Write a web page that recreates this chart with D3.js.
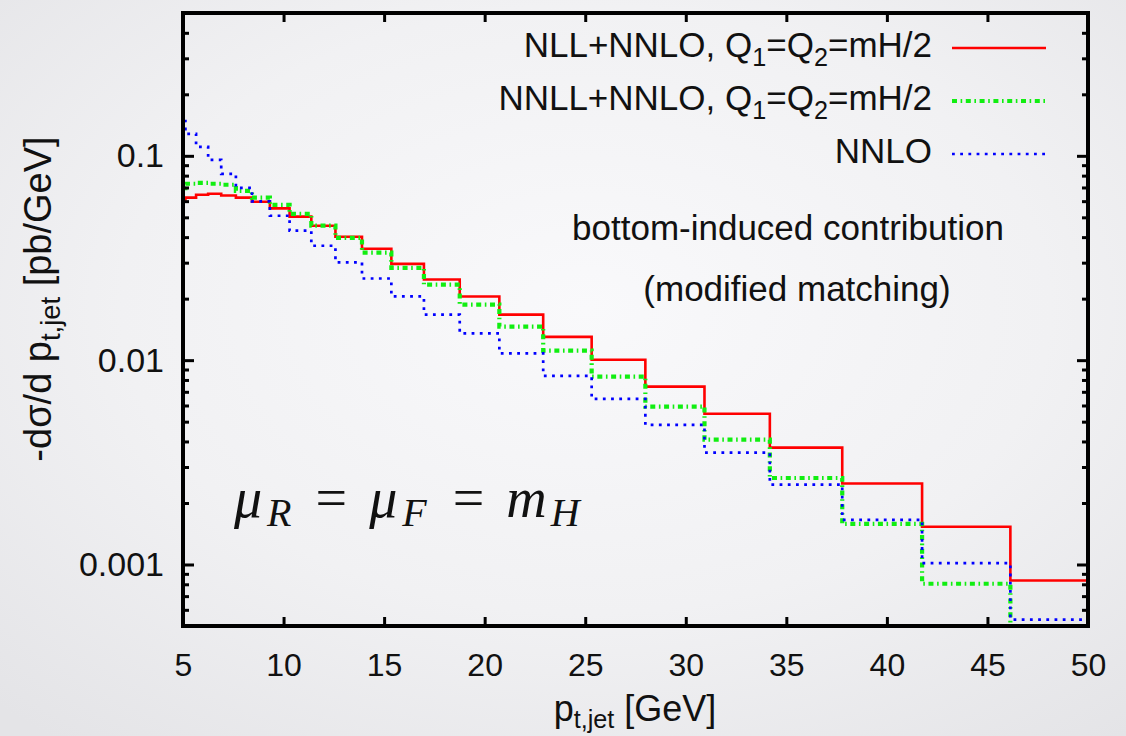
<!DOCTYPE html>
<html>
<head>
<meta charset="utf-8">
<script src="https://cdn.jsdelivr.net/npm/d3@7"></script>
<style>
  html, body { margin: 0; padding: 0; }
  body {
    width: 1126px; height: 736px; overflow: hidden;
    background: radial-gradient(ellipse 75% 75% at 52% 42%, #f9f9fb 0%, #f1f1f3 55%, #e4e4e7 100%);
  }
  svg { display: block; font-family: "Liberation Sans", Arial, Helvetica, sans-serif; }
</style>
</head>
<body>
<svg id="chart" width="1126" height="736"></svg>
<script>
// Histogram bin edges in p_t,jet [GeV] (logarithmic binning)
const binEdges = [4.63, 5.12, 5.65, 6.25, 6.90, 7.63, 8.43, 9.32, 10.30, 11.38, 12.58, 13.90,
                  15.36, 16.98, 18.76, 20.73, 22.91, 25.32, 27.99, 30.93, 34.18, 37.78, 41.75, 46.14, 51.0];

// -dsigma/dp_t,jet [pb/GeV] per bin
const nllNnlo  = [0.0612, 0.0624, 0.0645, 0.0652, 0.0640, 0.0624, 0.0596, 0.0553, 0.0504, 0.0455,
                  0.0402, 0.0351, 0.0296, 0.0248, 0.0205, 0.0167, 0.0130, 0.01005, 0.00742, 0.00547,
                  0.00373, 0.00249, 0.00153, 0.000835];
const nnllNnlo = [0.0695, 0.0730, 0.0738, 0.0730, 0.0722, 0.0674, 0.0624, 0.0576, 0.0520, 0.0455,
                  0.0397, 0.0336, 0.0283, 0.0234, 0.0187, 0.0146, 0.01113, 0.0083, 0.00593, 0.00408,
                  0.00265, 0.00158, 0.000805, 0.00045];
const nnlo     = [0.148, 0.128, 0.1107, 0.0956, 0.0816, 0.0697, 0.0599, 0.0509, 0.0430, 0.0363,
                  0.0301, 0.0251, 0.0205, 0.0167, 0.01352, 0.01079, 0.00837, 0.00646, 0.00482, 0.00353,
                  0.00246, 0.001655, 0.001015, 0.000537];

const xTicks = [5, 10, 15, 20, 25, 30, 35, 40, 45, 50];
const yTicks = [0.1, 0.01, 0.001];
const yTickLabels = ["0.1", "0.01", "0.001"];

const svg = d3.select("#chart");
const plot = { left: 183, right: 1088, top: 13, bottom: 626 };

const x = d3.scaleLinear().domain([5, 50]).range([plot.left, plot.right]);
const y = d3.scaleLog().domain([0.0005, 0.5]).range([plot.bottom, plot.top]);

svg.append("defs").append("clipPath").attr("id", "plot-clip")
  .append("rect")
  .attr("x", plot.left).attr("y", plot.top)
  .attr("width", plot.right - plot.left).attr("height", plot.bottom - plot.top);

// Step histograms
const stepLine = d3.line()
  .x(d => x(d[0]))
  .y(d => y(d[1]))
  .curve(d3.curveStepAfter);

function stepPoints(values) {
  return binEdges.map((e, i) => [e, values[Math.min(i, values.length - 1)]]);
}

const series = [
  { name: "NLL",  values: nllNnlo,  color: "#ff0000", width: 2.6, dash: null },
  { name: "NNLL", values: nnllNnlo, color: "#11ee11", width: 4.2, dash: "5,3.6,1.6,3.6" },
  { name: "NNLO", values: nnlo,     color: "#0000ff", width: 2.7, dash: "2.8,5.4" }
];

const lines = svg.append("g").attr("clip-path", "url(#plot-clip)");
series.forEach(s => {
  lines.append("path")
    .attr("d", stepLine(stepPoints(s.values)))
    .attr("fill", "none")
    .attr("stroke", s.color)
    .attr("stroke-width", s.width)
    .attr("stroke-dasharray", s.dash);
});

// Axes (ticks point inward on all four sides)
const minorY = y.ticks().filter(v => !yTicks.some(t => Math.abs(v - t) / t < 1e-6));

function styleAxis(size) {
  return g => {
    g.select(".domain").remove();
    g.selectAll(".tick line").attr("stroke", "#000").attr("stroke-width", 3);
    g.selectAll(".tick text")
      .attr("fill", "#111")
      .attr("font-size", size)
      .attr("font-family", "'Liberation Sans', Arial, sans-serif");
  };
}

svg.append("g").attr("transform", `translate(0,${plot.bottom})`)
  .call(d3.axisBottom(x).tickValues(xTicks).tickSize(-9).tickPadding(27).tickFormat(d3.format("d")))
  .call(styleAxis(32));
svg.append("g").attr("transform", `translate(0,${plot.top})`)
  .call(d3.axisTop(x).tickValues(xTicks).tickSize(-9).tickFormat(""))
  .call(styleAxis(32));
svg.append("g").attr("transform", `translate(${plot.left},0)`)
  .call(d3.axisLeft(y).tickValues(yTicks).tickSize(-11).tickPadding(19)
    .tickFormat((d, i) => yTickLabels[i]))
  .call(styleAxis(34));
svg.append("g").attr("transform", `translate(${plot.left},0)`)
  .call(d3.axisLeft(y).tickValues(minorY).tickSize(-6).tickFormat(""))
  .call(styleAxis(34));
svg.append("g").attr("transform", `translate(${plot.right},0)`)
  .call(d3.axisRight(y).tickValues(yTicks).tickSize(-11).tickFormat(""))
  .call(styleAxis(34));
svg.append("g").attr("transform", `translate(${plot.right},0)`)
  .call(d3.axisRight(y).tickValues(minorY).tickSize(-6).tickFormat(""))
  .call(styleAxis(34));

// Frame
svg.append("rect")
  .attr("x", plot.left).attr("y", plot.top)
  .attr("width", plot.right - plot.left).attr("height", plot.bottom - plot.top)
  .attr("fill", "none").attr("stroke", "#000").attr("stroke-width", 4);

// Helper for text with subscripts: parts = [[text, isSub], ...]
function richText(sel, parts, subScale, subShift) {
  let shifted = false;
  parts.forEach(([t, sub]) => {
    const ts = sel.append("tspan").text(t);
    if (sub && !shifted) { ts.attr("dy", subShift).attr("font-size", (subScale * 100) + "%"); shifted = true; }
    else if (sub) { ts.attr("font-size", (subScale * 100) + "%"); }
    else if (!sub && shifted) { ts.attr("dy", -subShift); shifted = false; }
  });
  return sel;
}

// Legend
const legendRows = [
  [["NLL+NNLO, Q", false], ["1", true], ["=Q", false], ["2", true], ["=mH/2", false]],
  [["NNLL+NNLO, Q", false], ["1", true], ["=Q", false], ["2", true], ["=mH/2", false]],
  [["NNLO", false]]
];
const legend = svg.append("g");
legendRows.forEach((parts, i) => {
  const by = 57 + i * 53;
  const t = legend.append("text")
    .attr("x", 932).attr("y", by)
    .attr("text-anchor", "end")
    .attr("font-size", 35)
    .attr("fill", "#111");
  richText(t, parts, 0.72, 9);
  const s = series[i];
  legend.append("line")
    .attr("x1", 952).attr("x2", 1046)
    .attr("y1", by - 9).attr("y2", by - 9)
    .attr("stroke", s.color)
    .attr("stroke-width", s.width)
    .attr("stroke-dasharray", s.dash);
});

// Annotations
svg.append("text").attr("x", 788).attr("y", 240)
  .attr("text-anchor", "middle").attr("font-size", 35).attr("fill", "#111")
  .text("bottom-induced contribution");
svg.append("text").attr("x", 797).attr("y", 301)
  .attr("text-anchor", "middle").attr("font-size", 35).attr("fill", "#111")
  .text("(modified matching)");

// Scale choice in math style
const mathT = svg.append("text")
  .attr("x", 234).attr("y", 517)
  .attr("font-family", "'Liberation Serif', 'DejaVu Serif', serif")
  .attr("font-size", 56).attr("fill", "#111");
const mathParts = [
  ["μ", "it", 0], ["R", "sub", 5], ["=", "rm", 24], ["μ", "it", 22], ["F", "sub", 5],
  ["=", "rm", 26], ["m", "it", 22], ["H", "sub", 4]
];
mathParts.forEach(([t, k, gap], i, arr) => {
  const ts = mathT.append("tspan").text(t).attr("dx", gap);
  if (k === "sub") ts.attr("font-style", "italic").attr("font-size", 40).attr("dy", 9);
  else {
    ts.attr("font-style", k === "it" ? "italic" : "normal");
    if (i > 0 && arr[i - 1][1] === "sub") ts.attr("dy", -9);
  }
});

// Axis titles
const xTitle = svg.append("text")
  .attr("x", 635).attr("y", 721)
  .attr("text-anchor", "middle").attr("font-size", 36).attr("fill", "#111");
richText(xTitle, [["p", false], ["t,jet", true], [" [GeV]", false]], 0.7, 7);

const yTitle = svg.append("text")
  .attr("transform", "translate(51,299) rotate(-90)")
  .attr("text-anchor", "middle").attr("font-size", 38).attr("fill", "#111");
richText(yTitle, [["-dσ/d p", false], ["t,jet", true], [" [pb/GeV]", false]], 0.72, 9);
</script>
</body>
</html>
